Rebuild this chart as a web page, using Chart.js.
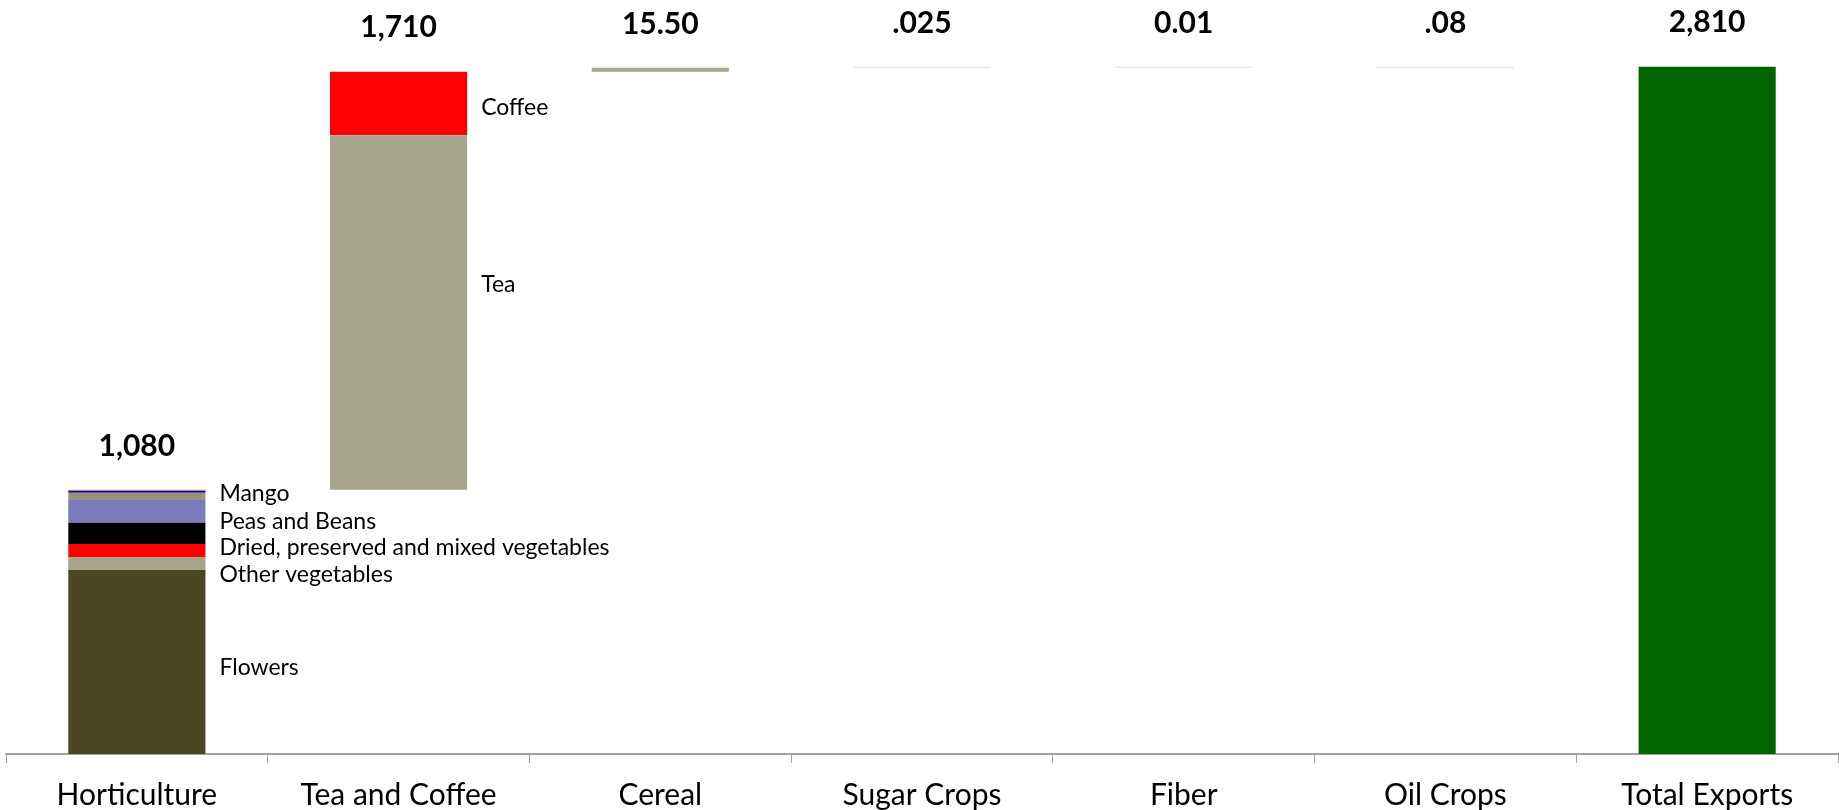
<!DOCTYPE html>
<html><head><meta charset="utf-8">
<script src="https://cdn.jsdelivr.net/npm/chart.js@4"></script>
<style>html,body{margin:0;padding:0;background:#fff;overflow:hidden;}</style>
</head><body>
<canvas id="c" width="1839" height="810"></canvas>
<script>
// ---------- DATA ----------
const categories = ["Horticulture","Tea and Coffee","Cereal","Sugar Crops","Fiber","Oil Crops","Total Exports"];
const horticultureNames = ["Flowers","Other vegetables","Dried, preserved and mixed vegetables","(unlabelled)","Peas and Beans","Mango","(unlabelled)","(unlabelled)"];
const horticultureValues = [752, 54, 53, 87, 93, 29, 8, 4];
const horticultureShowLabel = [true, true, true, false, true, true, false, false];
const teaCoffeeNames = ["Tea","Coffee"];
const teaCoffeeValues = [1450, 260];
const minorNames = ["Cereal","Sugar Crops","Fiber","Oil Crops"];
const minorValues = [15.5, 0.025, 0.01, 0.08];
const totalExports = 2810;
const valueLabels = ["1,080","1,710","15.50",".025","0.01",".08","2,810"];

// ---------- STYLE ----------
const FONT = "Lato, 'Open Sans', sans-serif";
const horticultureColors = ['#4a4621','#a6a48a','#ff0000','#000000','#7b7bbb','#979479','#0000cc','#ff9900'];
const horticultureLabelDy = [6, 11, -2.5, 0, 10, -2.5, 0, 0];
const teaCoffeeColors = ['#a6a48a','#ff0000'];
const teaCoffeeLabelDy = [-28, 4];
const minorColors = ['#a6a48a','#e2e0d4','#e2e0d4','#e2e0d4'];
const totalColor = '#006400';

// ---------- BUILD DATASETS ----------
const N = categories.length;
function rowAt(idx, pair){ const r = new Array(N).fill(null); r[idx] = pair; return r; }
const datasets = [];
let cum = 0;
horticultureValues.forEach((v,i)=>{
  datasets.push({label: horticultureNames[i], data: rowAt(0,[cum, cum+v]), backgroundColor: horticultureColors[i],
    segLabel: horticultureShowLabel[i] ? horticultureNames[i] : null, labelDy: horticultureLabelDy[i]});
  cum += v;
});
teaCoffeeValues.forEach((v,i)=>{
  datasets.push({label: teaCoffeeNames[i], data: rowAt(1,[cum, cum+v]), backgroundColor: teaCoffeeColors[i],
    segLabel: teaCoffeeNames[i], labelDy: teaCoffeeLabelDy[i]});
  cum += v;
});
minorValues.forEach((v,i)=>{
  datasets.push({label: minorNames[i], data: rowAt(2+i,[cum, cum+v]), backgroundColor: minorColors[i], minBarLength: 1});
  cum += v;
});
datasets.push({label: "Total Exports", data: rowAt(6,[0, totalExports]), backgroundColor: totalColor});
datasets.forEach(d=>{ d.grouped = false; d.borderWidth = 0; d.barPercentage = 0.524; d.categoryPercentage = 1; });

// ---------- LABEL PLUGIN ----------
const labelPlugin = {
  id: 'labels',
  afterDatasetsDraw(chart){
    const ctx = chart.ctx;
    ctx.save();
    ctx.fillStyle = '#000';
    ctx.textBaseline = 'middle';
    ctx.font = "23px " + FONT;
    ctx.textAlign = 'left';
    chart.data.datasets.forEach((ds, di)=>{
      if(!ds.segLabel) return;
      const meta = chart.getDatasetMeta(di);
      meta.data.forEach((el, i)=>{
        if(ds.data[i] == null) return;
        const mid = (el.y + el.base)/2;
        ctx.fillText(ds.segLabel, el.x + el.width/2 + 14, mid + (ds.labelDy||0));
      });
    });
    ctx.font = "bold 30px " + FONT;
    ctx.textAlign = 'center';
    for(let i=0;i<N;i++){
      let top = Infinity, x = null;
      chart.data.datasets.forEach((ds, di)=>{
        if(ds.data[i] == null) return;
        const el = chart.getDatasetMeta(di).data[i];
        const t = Math.min(el.y, el.base);
        if(t < top){ top = t; x = el.x; }
      });
      if(x !== null) ctx.fillText(valueLabels[i], x, top - 44);
    }
    ctx.restore();
  }
};

new Chart(document.getElementById('c'), {
  type: 'bar',
  data: { labels: categories, datasets },
  options: {
    responsive: false,
    devicePixelRatio: 1,
    animation: false,
    layout: { padding: { left: 6, right: 1, top: 0, bottom: 0 } },
    plugins: { legend: { display: false }, tooltip: { enabled: false } },
    scales: {
      x: {
        offset: true,
        afterFit(scale){ scale.height = 56; },
        grid: { display: true, offset: true, drawOnChartArea: false, drawTicks: true, tickLength: 9, color: '#a0a0a0', lineWidth: 1 },
        border: { display: true, color: '#a0a0a0', width: 2 },
        ticks: { font: { family: FONT, size: 30 }, color: '#000', padding: 14, maxRotation: 0, autoSkip: false }
      },
      y: { display: false, min: 0, max: 3083 }
    }
  },
  plugins: [labelPlugin]
});
</script>
</body></html>
